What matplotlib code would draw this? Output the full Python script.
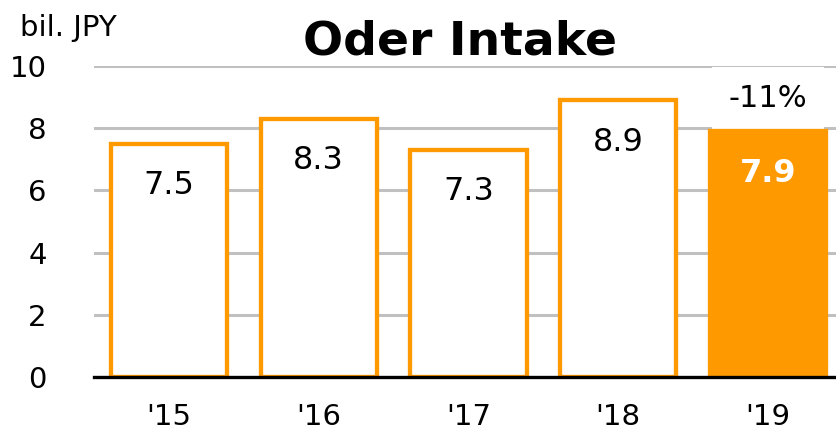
import matplotlib.pyplot as plt
import numpy as np

YEARS = ["'15", "'16", "'17", "'18", "'19"]
VALUES = [7.5, 8.3, 7.3, 8.9, 7.9]
CHANGE_LABEL = '-11%'
ORANGE = '#FF9900'

fig = plt.figure(figsize=(8.36, 4.34), dpi=100)
ax = fig.add_axes([94 / 836, 1 - 377 / 434, 749 / 836, 311 / 434])

x = np.arange(len(YEARS))
faces = ['white'] * (len(VALUES) - 1) + [ORANGE]
ax.bar(x, VALUES, width=0.775, color=faces, edgecolor=ORANGE, linewidth=3.1, zorder=3)

for i, v in enumerate(VALUES):
	last = i == len(VALUES) - 1
	ax.text(i, v - 1.35, f'{v:.1f}', ha='center', va='center', fontsize=23,
		color='white' if last else 'black', fontweight='bold' if last else 'normal', zorder=4)

# white box behind the change label hides the top gridline like the original
ax.text(x[-1], VALUES[-1] + 1.05, CHANGE_LABEL, ha='center', va='center', fontsize=22,
	bbox=dict(facecolor='white', edgecolor='none', pad=12), zorder=2)

ax.set_xlim(-0.5, 4.5)
ax.set_ylim(0, 10)
ax.set_yticks([0, 2, 4, 6, 8, 10])
ax.set_xticks(x)
ax.set_xticklabels(YEARS)
ax.tick_params(axis='both', length=0, labelsize=21)
ax.tick_params(axis='y', pad=34)
ax.tick_params(axis='x', pad=19)
ax.grid(axis='y', color='#C0C0C0', linewidth=2.2, zorder=0)
for s in ['top', 'right', 'left']:
	ax.spines[s].set_visible(False)
ax.spines['bottom'].set_linewidth(2.4)
ax.spines['bottom'].set_zorder(5)

fig.text(20 / 836, 1 - 28 / 434, 'bil. JPY', fontsize=21, ha='left', va='center')
fig.text(460 / 836, 1 - 42 / 434, 'Oder Intake', fontsize=34, fontweight='bold', ha='center', va='center')

fig.savefig('out.png', dpi=100)
